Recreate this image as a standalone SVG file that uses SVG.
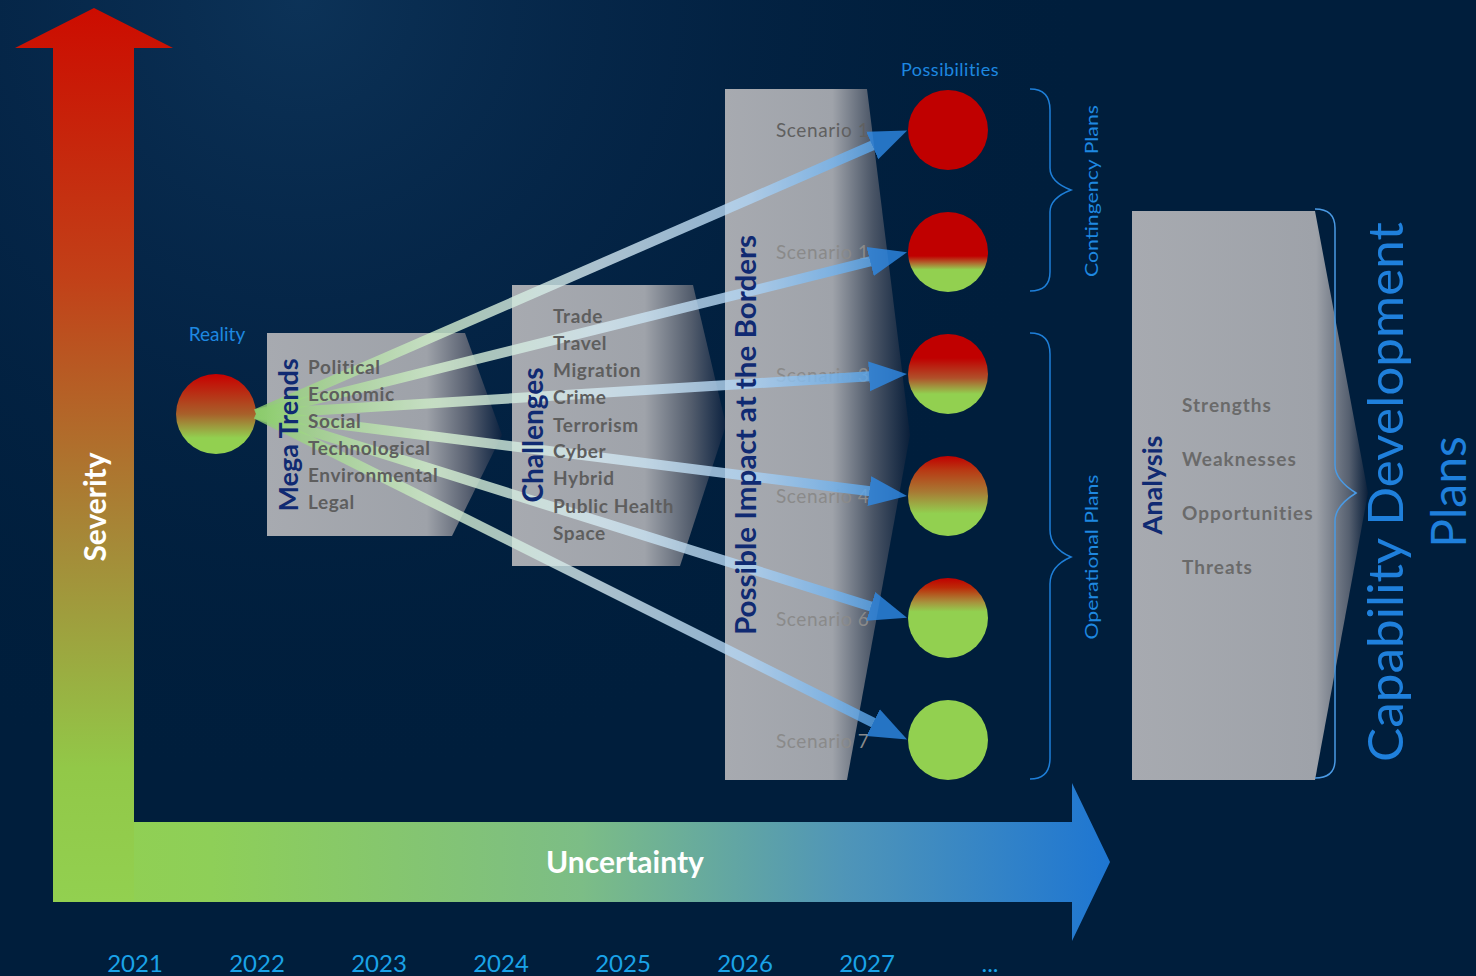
<svg xmlns="http://www.w3.org/2000/svg" width="1476" height="976" viewBox="0 0 1476 976">
<defs>
<style>
.item{font-family:Lato,"Liberation Sans",sans-serif;font-size:19px;font-weight:bold;fill:#5e5e5e;letter-spacing:0.6px}
.title{font-family:Lato,"Liberation Sans",sans-serif;font-weight:bold;fill:#102a72;text-anchor:middle}
.scen{font-family:Lato,"Liberation Sans",sans-serif;font-size:19px;fill:#8a8a8a;letter-spacing:0.6px}
.blue{font-family:Lato,"Liberation Sans",sans-serif;fill:#1e88e0;text-anchor:middle}
.year{font-family:Lato,"Liberation Sans",sans-serif;font-size:24px;fill:#1aa3e8;text-anchor:middle}
.axis{font-family:Lato,"Liberation Sans",sans-serif;font-weight:bold;fill:#ffffff;text-anchor:middle;font-size:30px}
.brace{fill:none;stroke:#1e7fd8;stroke-width:1.5}
.conn{fill:none;stroke:url(#gLine);stroke-width:10;opacity:0.8}
</style>
<radialGradient id="gBg" cx="300" cy="0" r="800" gradientUnits="userSpaceOnUse">
<stop offset="0" stop-color="#14406a" stop-opacity="0.6"/>
<stop offset="0.45" stop-color="#0c3058" stop-opacity="0.35"/>
<stop offset="1" stop-color="#001e3c" stop-opacity="0"/>
</radialGradient>
<linearGradient id="gV" x1="0" y1="8" x2="0" y2="902" gradientUnits="userSpaceOnUse">
<stop offset="0" stop-color="#cc0c00"/>
<stop offset="0.3" stop-color="#c24018"/>
<stop offset="0.6" stop-color="#a58a38"/>
<stop offset="0.85" stop-color="#92c848"/>
<stop offset="1" stop-color="#92d050"/>
</linearGradient>
<linearGradient id="gH" x1="53" y1="0" x2="1110" y2="0" gradientUnits="userSpaceOnUse">
<stop offset="0" stop-color="#92d050"/>
<stop offset="0.15" stop-color="#8ecf58"/>
<stop offset="0.5" stop-color="#7cbd86"/>
<stop offset="0.75" stop-color="#4f95b8"/>
<stop offset="1" stop-color="#1e76d2"/>
</linearGradient>
<linearGradient id="gMega" x1="0" y1="0" x2="1" y2="0">
<stop offset="0" stop-color="#a7aab0"/>
<stop offset="0.68" stop-color="#9ea2a9"/>
<stop offset="0.85" stop-color="#5a6272"/>
<stop offset="1" stop-color="#0c2240"/>
</linearGradient>
<linearGradient id="gChal" x1="0" y1="0" x2="1" y2="0">
<stop offset="0" stop-color="#a7aab0"/>
<stop offset="0.62" stop-color="#9fa3aa"/>
<stop offset="0.84" stop-color="#525c6c"/>
<stop offset="1" stop-color="#0c2240"/>
</linearGradient>
<linearGradient id="gImp" x1="0" y1="0" x2="1" y2="0">
<stop offset="0" stop-color="#a7aab0"/>
<stop offset="0.58" stop-color="#9fa3aa"/>
<stop offset="0.8" stop-color="#4a5566"/>
<stop offset="1" stop-color="#0a1f3a"/>
</linearGradient>
<linearGradient id="gAna" x1="0" y1="0" x2="1" y2="0">
<stop offset="0" stop-color="#a7aab0"/>
<stop offset="0.78" stop-color="#9ea2a9"/>
<stop offset="0.92" stop-color="#566070"/>
<stop offset="1" stop-color="#0a1f3a"/>
</linearGradient>
<linearGradient id="gLine" x1="0" y1="0" x2="1" y2="0">
<stop offset="0" stop-color="#8ccc6c"/>
<stop offset="0.3" stop-color="#d4f0d0"/>
<stop offset="0.55" stop-color="#d6eaf2"/>
<stop offset="0.8" stop-color="#b0d4f4"/>
<stop offset="1" stop-color="#5aa6ec"/>
</linearGradient>
<linearGradient id="gR" x1="0" y1="0" x2="0" y2="1">
<stop offset="0" stop-color="#c80000"/>
<stop offset="0.5" stop-color="#a8602a"/>
<stop offset="0.8" stop-color="#92d050"/>
</linearGradient>
<linearGradient id="gC2" x1="0" y1="0" x2="0" y2="1">
<stop offset="0" stop-color="#c00000"/>
<stop offset="0.55" stop-color="#c00000"/>
<stop offset="0.64" stop-color="#b06a30"/>
<stop offset="0.72" stop-color="#92d050"/>
</linearGradient>
<linearGradient id="gC3" x1="0" y1="0" x2="0" y2="1">
<stop offset="0" stop-color="#c00000"/>
<stop offset="0.3" stop-color="#c00000"/>
<stop offset="0.55" stop-color="#b0502a"/>
<stop offset="0.75" stop-color="#92d050"/>
</linearGradient>
<linearGradient id="gC4" x1="0" y1="0" x2="0" y2="1">
<stop offset="0" stop-color="#c00000"/>
<stop offset="0.18" stop-color="#b83a14"/>
<stop offset="0.45" stop-color="#a87a34"/>
<stop offset="0.72" stop-color="#92d050"/>
</linearGradient>
<linearGradient id="gC5" x1="0" y1="0" x2="0" y2="1">
<stop offset="0" stop-color="#c00000"/>
<stop offset="0.12" stop-color="#bc2a08"/>
<stop offset="0.3" stop-color="#a8903c"/>
<stop offset="0.42" stop-color="#92d050"/>
</linearGradient>
<marker id="ah" markerUnits="userSpaceOnUse" viewBox="0 -17 40 34" markerWidth="40" markerHeight="34" refX="1" refY="0" orient="auto">
<path d="M0,-15 L38,0 L0,15 z" fill="#2f8ae6"/>
</marker>
</defs>

<rect width="1476" height="976" fill="#001e3c"/>
<rect width="1476" height="976" fill="url(#gBg)"/>

<g id="severity-axis">
<polygon points="53,902 53,48 15,48 94,8 173,48 134,48 134,902" fill="url(#gV)"/>
<text class="axis" transform="translate(106,507) rotate(-90)">Severity</text>
</g>
<g id="uncertainty-axis">
<polygon points="134,822 1072,822 1072,783 1110,862 1072,941 1072,902 134,902" fill="url(#gH)"/>
<text class="axis" x="625" y="873">Uncertainty</text>
</g>

<g id="years">
<text class="year" x="135" y="972">2021</text>
<text class="year" x="257" y="972">2022</text>
<text class="year" x="379" y="972">2023</text>
<text class="year" x="501" y="972">2024</text>
<text class="year" x="623" y="972">2025</text>
<text class="year" x="745" y="972">2026</text>
<text class="year" x="867" y="972">2027</text>
<text class="year" x="990" y="972">...</text>
</g>

<g id="reality">
<text class="blue" x="217" y="341" font-size="19">Reality</text>
<circle cx="216" cy="414" r="40" fill="url(#gR)"/>
</g>

<g id="mega-trends-box">
<polygon points="267,333 465,333 502,435 452,536 267,536" fill="url(#gMega)"/>
</g>
<g id="challenges-box">
<polygon points="512,285 693,285 726,425 680,566 512,566" fill="url(#gChal)"/>
</g>

<g id="possible-impact-box">
<polygon points="725,89 867,89 910,435 847,780 725,780" fill="url(#gImp)"/>
<text class="scen" x="776" y="137" style="fill:#606060">Scenario 1</text>
<text class="scen" x="776" y="259">Scenario 1</text>
<text class="scen" x="776" y="382">Scenario 3</text>
<text class="scen" x="776" y="503">Scenario 4</text>
<text class="scen" x="776" y="626">Scenario 6</text>
<text class="scen" x="776" y="748">Scenario 7</text>
</g>

<g id="connectors">
<line class="conn" x1="256" y1="414" x2="873.2" y2="145.2" marker-end="url(#ah)"/>
<line class="conn" x1="256" y1="414" x2="871.1" y2="261.2" marker-end="url(#ah)"/>
<line class="conn" x1="256" y1="414" x2="870.1" y2="376.3" marker-end="url(#ah)"/>
<line class="conn" x1="256" y1="414" x2="870.3" y2="491.3" marker-end="url(#ah)"/>
<line class="conn" x1="256" y1="414" x2="871.7" y2="606.7" marker-end="url(#ah)"/>
<line class="conn" x1="256" y1="414" x2="874.0" y2="723.0" marker-end="url(#ah)"/>
</g>

<g id="mega-trends">
<text class="title" font-size="27" transform="translate(298,435) rotate(-90)">Mega Trends</text>
<text class="item" x="308" y="374">Political</text>
<text class="item" x="308" y="401">Economic</text>
<text class="item" x="308" y="428">Social</text>
<text class="item" x="308" y="455">Technological</text>
<text class="item" x="308" y="482">Environmental</text>
<text class="item" x="308" y="509">Legal</text>
</g>

<g id="challenges">
<text class="title" font-size="28" transform="translate(543,435) rotate(-90)">Challenges</text>
<text class="item" x="553" y="323">Trade</text>
<text class="item" x="553" y="350">Travel</text>
<text class="item" x="553" y="377">Migration</text>
<text class="item" x="553" y="404">Crime</text>
<text class="item" x="553" y="432">Terrorism</text>
<text class="item" x="553" y="458">Cyber</text>
<text class="item" x="553" y="485">Hybrid</text>
<text class="item" x="553" y="513">Public Health</text>
<text class="item" x="553" y="540">Space</text>
</g>

<g id="possible-impact">
<text class="title" font-size="28" textLength="400" lengthAdjust="spacingAndGlyphs" transform="translate(756,435) rotate(-90)">Possible Impact at the Borders</text>
</g>

<g id="possibilities">
<text class="blue" x="950" y="76" font-size="18" letter-spacing="0.5">Possibilities</text>
<circle cx="948" cy="130" r="40" fill="#c00000"/>
<circle cx="948" cy="252" r="40" fill="url(#gC2)"/>
<circle cx="948" cy="374" r="40" fill="url(#gC3)"/>
<circle cx="948" cy="496" r="40" fill="url(#gC4)"/>
<circle cx="948" cy="618" r="40" fill="url(#gC5)"/>
<circle cx="948" cy="740" r="40" fill="#92d050"/>
</g>

<g id="contingency-plans">
<path class="brace" d="M1030,89 Q1050,89 1050,110 L1050,168 Q1050,182 1071,190 Q1050,198 1050,212 L1050,272 Q1050,291 1030,291"/>
<text class="blue" font-size="17" textLength="172" lengthAdjust="spacingAndGlyphs" transform="translate(1098,191) rotate(-90)">Contingency Plans</text>
</g>

<g id="operational-plans">
<path class="brace" d="M1030,333 Q1050,333 1050,354 L1050,530 Q1050,548 1071,557 Q1050,566 1050,584 L1050,758 Q1050,779 1030,779"/>
<text class="blue" font-size="17" textLength="165" lengthAdjust="spacingAndGlyphs" transform="translate(1098,557) rotate(-90)">Operational Plans</text>
</g>

<g id="analysis">
<polygon points="1132,211 1315,211 1368,493 1315,780 1132,780" fill="url(#gAna)"/>
<path d="M1315,209 Q1335,209 1335,228 L1335,465 Q1335,480 1356,493 Q1335,506 1335,521 L1335,760 Q1335,778 1315,778" fill="none" stroke="#4a9ae4" stroke-width="1.5"/>
<text class="title" font-size="27" transform="translate(1162,485) rotate(-90)">Analysis</text>
<text class="item" x="1182" y="412" style="fill:#6a6a6a;letter-spacing:1px">Strengths</text>
<text class="item" x="1182" y="466" style="fill:#6a6a6a;letter-spacing:1px">Weaknesses</text>
<text class="item" x="1182" y="520" style="fill:#6a6a6a;letter-spacing:1px">Opportunities</text>
<text class="item" x="1182" y="574" style="fill:#6a6a6a;letter-spacing:1px">Threats</text>
</g>

<g id="capability-development-plans">
<text class="blue" font-size="48" textLength="540" lengthAdjust="spacingAndGlyphs" style="fill:#1f80dc" transform="translate(1403,492) rotate(-90)">Capability Development</text>
<text class="blue" font-size="48" style="fill:#1f80dc" transform="translate(1466,492) rotate(-90)">Plans</text>
</g>
</svg>
